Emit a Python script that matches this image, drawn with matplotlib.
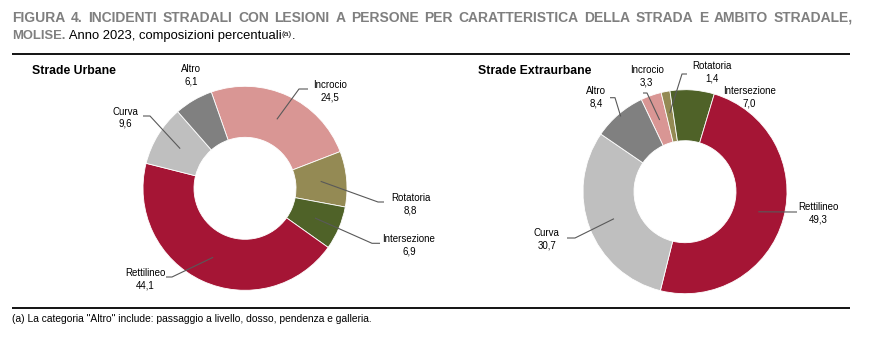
import matplotlib
matplotlib.use("Agg")
import matplotlib.pyplot as plt
from matplotlib import font_manager as fm
import numpy as np

# --- data -------------------------------------------------------------
categories = ["Incrocio", "Rotatoria", "Intersezione", "Rettilineo", "Curva", "Altro"]
urbane = [24.5, 8.8, 6.9, 44.1, 9.6, 6.1]
extraurbane = [3.3, 1.4, 7.0, 49.3, 30.7, 8.4]
colors = ["#D99694", "#948A54", "#4F6228", "#A51535", "#BFBFBF", "#808080"]

title_line1 = ("FIGURA 4. INCIDENTI STRADALI CON LESIONI A PERSONE PER CARATTERISTICA "
               "DELLA STRADA E AMBITO STRADALE,")
title_bold2 = "MOLISE."
title_rest2 = " Anno 2023, composizioni percentuali"
footnote = '(a) La categoria "Altro" include: passaggio a livello, dosso, pendenza e galleria.'

# --- fonts ------------------------------------------------------------
available = {f.name for f in fm.fontManager.ttflist}
NARROW = "Liberation Sans Narrow" if "Liberation Sans Narrow" in available else "Liberation Sans"
REGULAR = "Liberation Sans"
narrow_scale = 1.0 if NARROW == "Liberation Sans Narrow" else 0.82

W, H = 879, 349
fig = plt.figure(figsize=(W / 100, H / 100), dpi=100)
ax = fig.add_axes([0, 0, 1, 1])


def P(x, y):
    """pixel coordinates (origin top-left) -> data coordinates"""
    return x, H - y


def fmt(v):
    return f"{v:.1f}".replace(".", ",")


R_OUT, RING = 102, 51
LEADER = "#595959"
LBL = 8.6 * narrow_scale


def donut(values, center, start, title, title_xy, label_pos, leaders, anchor_r):
    cx, cy = P(*center)
    wedges, _ = ax.pie(values, colors=colors, startangle=start, counterclock=False,
                       radius=R_OUT, center=(cx, cy),
                       wedgeprops=dict(width=RING, edgecolor="white", linewidth=0.6))
    ax.text(*P(*title_xy), title, fontfamily=REGULAR, fontweight="bold",
            fontsize=8.8, ha="left", va="baseline", color="black")
    for w, name, v in zip(wedges, categories, values):
        lx, ly = label_pos[name]
        ax.text(*P(lx, ly - 6.2 + 4.1), name, fontfamily=NARROW, fontsize=LBL,
                ha="center", va="baseline", color="black")
        ax.text(*P(lx, ly + 6.2 + 4.1), fmt(v), fontfamily=NARROW, fontsize=LBL,
                ha="center", va="baseline", color="black")
        if name in leaders:
            mid = np.deg2rad((w.theta1 + w.theta2) / 2)
            r = anchor_r.get(name, 76)
            axp = (cx + r * np.cos(mid), cy + r * np.sin(mid))
            pts = [P(*p) for p in leaders[name]] + [axp]
            xs, ys = zip(*pts)
            ax.plot(xs, ys, color=LEADER, lw=0.8, solid_capstyle="butt")


donut(urbane, center=(245, 188.3), start=109.3, title="Strade Urbane", title_xy=(32, 74),
      label_pos={"Altro": (191, 74.5), "Incrocio": (330, 90), "Rotatoria": (410.5, 203),
                 "Intersezione": (409, 244), "Rettilineo": (145, 277.7), "Curva": (125, 116.7)},
      leaders={"Incrocio": [(308, 89), (299, 89)],
               "Rotatoria": [(384, 202), (378, 202)],
               "Intersezione": [(380, 243.3), (372, 243.3)],
               "Rettilineo": [(166, 277), (172, 277)],
               "Curva": [(143, 116), (150, 116)]},
      anchor_r={})

donut(extraurbane, center=(685, 191.7), start=115.4, title="Strade Extraurbane",
      title_xy=(478, 74),
      label_pos={"Incrocio": (646.7, 75.3), "Rotatoria": (711.7, 70.8), "Altro": (596, 96.3),
                 "Intersezione": (749.3, 95.8), "Rettilineo": (818.3, 212.5),
                 "Curva": (546.7, 238.3)},
      leaders={"Incrocio": [(643, 93), (647, 93)],
               "Rotatoria": [(687, 74), (682, 74)],
               "Altro": [(610, 97.7), (615, 97.7)],
               "Rettilineo": [(797, 212), (792, 212)],
               "Curva": [(567, 238), (575, 238)]},
      anchor_r={"Altro": 99, "Rotatoria": 80})

# one data unit = one pixel over the whole figure
ax.set_xlim(0, W)
ax.set_ylim(0, H)
ax.set_aspect("auto")
ax.axis("off")

# --- header, rules and footnote ----------------------------------------
GREY = "#7F7F7F"
TS1 = 10.0
TS = 9.4
X0, X1 = 12, 853

fig.canvas.draw()
renderer = fig.canvas.get_renderer()

# first header line, justified between the margins
words = title_line1.split(" ")
word_texts = [ax.text(*P(0, 21.7), w, fontfamily=REGULAR, fontweight="bold", fontsize=TS1,
                      color=GREY, ha="left", va="baseline") for w in words]
widths = [t.get_window_extent(renderer).width for t in word_texts]
gap = (X1 - X0 - sum(widths)) / (len(words) - 1)
x = X0
for t, wd in zip(word_texts, widths):
    t.set_x(x)
    x += wd + gap

# second header line
x = X0
pieces = [(title_bold2, dict(fontweight="bold", color=GREY, fontsize=TS), 39.3),
          (title_rest2, dict(color="black", fontsize=TS), 39.3),
          ("(a)", dict(color="black", fontsize=TS * 0.62), 35.5),
          (".", dict(color="black", fontsize=TS), 39.3)]
for s, kw, yb in pieces:
    t = ax.text(*P(x, yb), s, fontfamily=REGULAR, ha="left", va="baseline", **kw)
    bb = t.get_window_extent(renderer)
    x = bb.x1 + 0.3

ax.plot([12, 850], [H - 53.5] * 2, color="black", lw=1.3, solid_capstyle="butt")
ax.plot([12, 850], [H - 308.3] * 2, color="black", lw=1.3, solid_capstyle="butt")
ax.text(*P(12, 322.5), footnote, fontfamily=REGULAR, fontsize=7.4,
        color="black", ha="left", va="baseline")

fig.savefig("out.png", dpi=100, facecolor="white")
